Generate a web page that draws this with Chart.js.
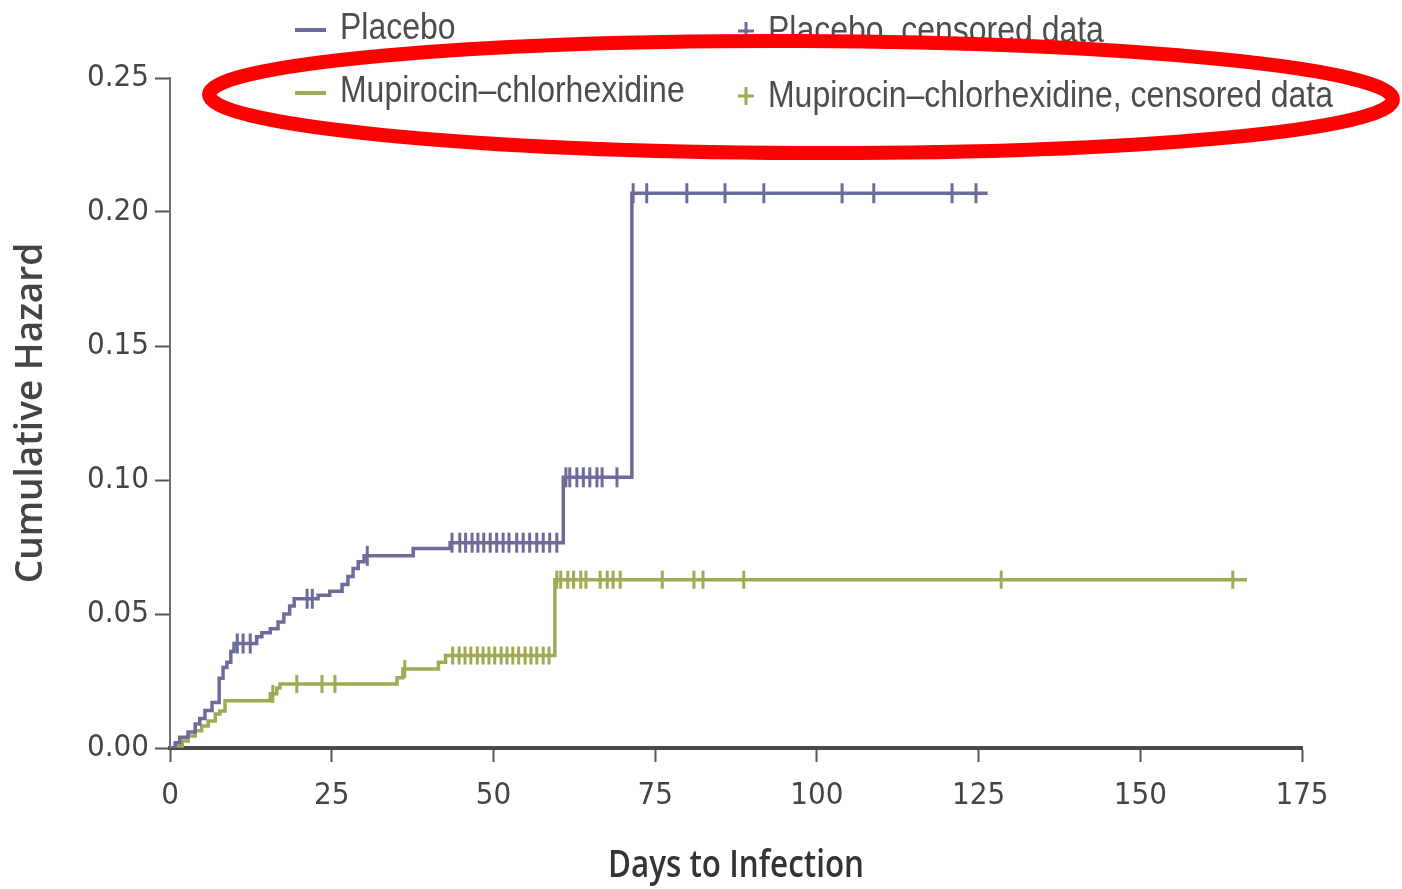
<!DOCTYPE html>
<html>
<head>
<meta charset="utf-8">
<title>Cumulative Hazard</title>
<script src="https://cdn.jsdelivr.net/npm/chart.js@4.4.1/dist/chart.umd.min.js"></script>
<style>
  html, body { margin: 0; padding: 0; background: #fff; }
  #chart { display: block; }
</style>
</head>
<body>
<canvas id="chart" width="1402" height="889"></canvas>
<script>
// Step curves: day of each event and the cumulative hazard after it
const placeboDays = [0, 0.8, 1.5, 2.8, 3.9, 4.6, 5.4, 6.5, 7.6, 8.2, 8.8, 9.4, 9.9, 13.4, 14.2, 15.5, 16.7, 17.6, 18.5, 19.2,
  22.9, 24.7, 26.6, 27.5, 28.3, 29.1, 30.0, 37.6, 43.3, 60.8, 71.4, 126.4];
const placeboHazard = [0, 0.002, 0.004, 0.006, 0.009, 0.011, 0.014, 0.017, 0.026, 0.030, 0.032, 0.036, 0.039, 0.0415, 0.043,
  0.0445, 0.047, 0.050, 0.053, 0.0557, 0.057, 0.0585, 0.061, 0.064, 0.067, 0.0695, 0.0717, 0.0744, 0.0766, 0.101, 0.207, 0.207];

const mupDays = [0, 0.8, 1.9, 2.8, 3.9, 4.9, 5.9, 7.0, 7.7, 8.5, 15.5, 16.5, 17.0, 35.1, 36.0, 41.5, 42.6, 59.5, 166.5];
const mupHazard = [0, 0.0007, 0.0026, 0.0045, 0.0064, 0.0082, 0.0101, 0.0127, 0.0138, 0.0176, 0.0202, 0.0224, 0.0239,
  0.0262, 0.0295, 0.0320, 0.0345, 0.0628, 0.0628];

// Censoring times (days)
const placeboCensored = [10.4, 11.3, 12.4, 21.2, 22.0, 30.5, 43.6, 44.8, 45.7, 46.7, 47.6, 48.5, 49.5, 50.5, 51.5, 52.4,
  53.6, 54.6, 55.6, 56.7, 57.7, 58.7, 59.8, 61.2, 61.8, 62.9, 63.9, 64.9, 66.0, 66.8, 69.1, 71.6, 73.7, 79.9, 85.8, 91.8,
  103.9, 108.8, 120.9, 124.6];
const mupCensored = [15.9, 19.6, 23.5, 25.5, 36.3, 43.7, 44.7, 45.6, 46.5, 47.5, 48.4, 49.3, 50.2, 51.2, 52.1, 53.0, 53.9,
  54.9, 55.8, 56.7, 57.7, 58.6, 59.8, 60.4, 61.5, 62.4, 63.5, 64.3, 66.5, 67.6, 68.5, 69.6, 76.1, 81.0, 82.4, 88.7,
  128.5, 164.3];

const xTickValues = [0, 25, 50, 75, 100, 125, 150, 175];
const yTickValues = [0, 0.05, 0.10, 0.15, 0.20, 0.25];

const seriesNames = ['Placebo', 'Mupirocin\u2013chlorhexidine'];
const censoredNames = ['Placebo, censored data', 'Mupirocin\u2013chlorhexidine, censored data'];
const xTitle = 'Days to Infection';

const PLACEBO_COLOR = '#6c6c9c';
const MUP_COLOR = '#9faa52';
const NARROW = "'DejaVu Sans Condensed', 'Liberation Sans', sans-serif";

function toPoints(days, values) {
  return days.map((d, i) => ({ x: d, y: values[i] }));
}

// hazard level of a step curve at a given day
function levelAt(days, values, t) {
  let v = values[0];
  for (let i = 0; i < days.length; i++) {
    if (days[i] <= t) v = values[i];
  }
  return v;
}

function censorPoints(times, days, values) {
  return times.map(t => ({ x: t, y: levelAt(days, values, t) }));
}

// narrow text: squeeze horizontally
function narrowText(ctx, text, x, y, sx) {
  ctx.save();
  ctx.translate(x, y);
  ctx.scale(sx, 1);
  ctx.fillText(text, 0, 0);
  ctx.restore();
}

// legend rows, x axis title and the red ring drawn straight on the canvas
const legendPlugin = {
  id: 'hazardLegend',
  afterDraw(chart) {
    const ctx = chart.ctx;
    ctx.save();

    // axis title, centred under the plot area
    ctx.font = "600 37px 'Open Sans', sans-serif";
    ctx.textBaseline = 'middle';
    ctx.textAlign = 'center';
    ctx.fillStyle = '#333';
    const area = chart.chartArea;
    const tw = ctx.measureText(xTitle).width;
    narrowText(ctx, xTitle, (area.left + area.right) / 2, 866, 256 / tw);

    ctx.textAlign = 'left';
    ctx.font = "37px 'Liberation Sans', sans-serif";
    ctx.fillStyle = '#4d4d4d';
    const sx = 565 / ctx.measureText(censoredNames[1]).width;

    const rows = [
      { y: 29, color: PLACEBO_COLOR, cy: 31 },
      { y: 92, color: MUP_COLOR, cy: 96 }
    ];
    rows.forEach((row, i) => {
      ctx.strokeStyle = row.color;
      ctx.lineWidth = 4;
      ctx.beginPath();
      ctx.moveTo(295, row.y + 1);
      ctx.lineTo(326, row.y + 1);
      ctx.stroke();
      narrowText(ctx, seriesNames[i], 340, row.y, sx);

      ctx.lineWidth = 3;
      ctx.beginPath();
      ctx.moveTo(738, row.cy);
      ctx.lineTo(754, row.cy);
      ctx.moveTo(746, row.cy - 9);
      ctx.lineTo(746, row.cy + 9);
      ctx.stroke();
      narrowText(ctx, censoredNames[i], 768, row.cy + 1, sx);
    });

    ctx.strokeStyle = '#ff0000';
    ctx.lineWidth = 14;
    ctx.beginPath();
    ctx.ellipse(801, 97, 592, 56, 0.004, 0, Math.PI * 2);
    ctx.stroke();
    ctx.restore();
  }
};

new Chart(document.getElementById('chart'), {
  type: 'line',
  data: {
    datasets: [
      {
        label: censoredNames[0],
        type: 'scatter',
        data: censorPoints(placeboCensored, placeboDays, placeboHazard),
        pointStyle: 'line',
        rotation: 90,
        radius: 10,
        borderColor: PLACEBO_COLOR,
        borderWidth: 3,
        showLine: false
      },
      {
        label: censoredNames[1],
        type: 'scatter',
        data: censorPoints(mupCensored, mupDays, mupHazard),
        pointStyle: 'line',
        rotation: 90,
        radius: 9,
        borderColor: MUP_COLOR,
        borderWidth: 3,
        showLine: false
      },
      {
        label: seriesNames[0],
        data: toPoints(placeboDays, placeboHazard),
        stepped: 'before',
        borderColor: PLACEBO_COLOR,
        borderWidth: 3.5,
        pointRadius: 0,
        fill: false
      },
      {
        label: seriesNames[1],
        data: toPoints(mupDays, mupHazard),
        stepped: 'before',
        borderColor: MUP_COLOR,
        borderWidth: 3.5,
        pointRadius: 0,
        fill: false
      }
    ]
  },
  options: {
    responsive: false,
    animation: false,
    devicePixelRatio: 1,
    layout: { padding: { top: 78, right: 100, left: 0, bottom: 0 } },
    plugins: {
      legend: { display: false },
      tooltip: { enabled: false }
    },
    scales: {
      x: {
        type: 'linear',
        min: 0,
        max: 175,
        afterBuildTicks: scale => { scale.ticks = xTickValues.map(v => ({ value: v })); },
        afterFit: scale => { scale.height = 141; },
        grid: { drawOnChartArea: false, drawTicks: true, tickLength: 14, tickColor: '#555', tickWidth: 2 },
        border: { display: true, color: '#4a4a4a', width: 4 },
        ticks: {
          padding: 15,
          color: '#444',
          font: { family: NARROW, size: 31 },
          maxRotation: 0,
          callback: v => String(v)
        },
        title: { display: false }
      },
      y: {
        type: 'linear',
        min: 0,
        max: 0.25,
        afterBuildTicks: scale => { scale.ticks = yTickValues.map(v => ({ value: v })); },
        afterFit: scale => { scale.width = 170; },
        grid: { drawOnChartArea: false, drawTicks: true, tickLength: 15, tickColor: '#555', tickWidth: 2 },
        border: { display: true, color: '#6e6e6e', width: 2 },
        ticks: {
          padding: 6,
          color: '#444',
          font: { family: NARROW, size: 31 },
          callback: v => v.toFixed(2)
        },
        title: {
          display: true,
          text: 'Cumulative Hazard',
          color: '#444',
          font: { family: "'Open Sans', sans-serif", size: 37, weight: 600 },
          padding: { top: 9, bottom: 0 }
        }
      }
    }
  },
  plugins: [legendPlugin]
});
</script>
</body>
</html>
